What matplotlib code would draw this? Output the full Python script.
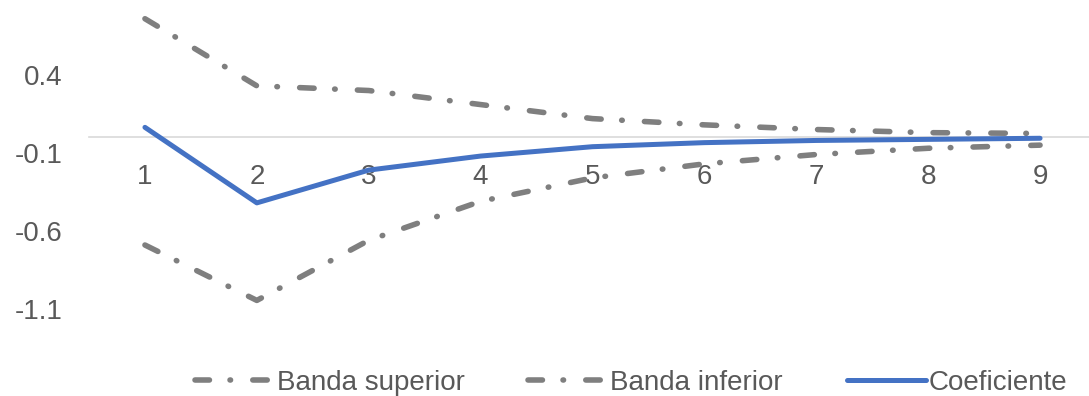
import matplotlib
matplotlib.use("Agg")
import matplotlib.pyplot as plt

plt.rcParams['font.family'] = ['Liberation Sans', 'DejaVu Sans']

periodos = [1, 2, 3, 4, 5, 6, 7, 8, 9]
banda_superior = [0.76, 0.33, 0.30, 0.21, 0.12, 0.08, 0.05, 0.03, 0.025]
banda_inferior = [-0.69, -1.045, -0.66, -0.41, -0.26, -0.17, -0.11, -0.07, -0.05]
coeficiente = [0.064, -0.42, -0.21, -0.12, -0.06, -0.034, -0.02, -0.013, -0.006]
yticks = [0.4, -0.1, -0.6, -1.1]

GRIS = '#7f7f7f'
AZUL = '#4472c4'
TXT = '#595959'
dash_dot = (0, (2.6, 3.7, 0.1, 4.0))

fig = plt.figure(figsize=(10.89, 3.96), dpi=100)
ax = fig.add_axes([89/1089, 1 - 309/396, 1007/1089, 309/396])

ax.plot(periodos, banda_superior, color=GRIS, lw=4.0, linestyle=dash_dot,
        dash_capstyle='round', label='Banda superior')
ax.plot(periodos, banda_inferior, color=GRIS, lw=4.0, linestyle=dash_dot,
        dash_capstyle='round', label='Banda inferior')
ax.plot(periodos, coeficiente, color=AZUL, lw=3.6, solid_capstyle='round',
        label='Coeficiente')

ax.set_xlim(0.5, 9.5)
ax.set_ylim(-1.1, 0.88)
ax.set_xticks(periodos)
ax.set_xticklabels([str(p) for p in periodos])
ax.set_yticks(yticks)
ax.set_yticklabels([f'{v:.1f}' for v in yticks])

for s in ['top', 'right', 'left']:
    ax.spines[s].set_visible(False)
ax.spines['bottom'].set_position(('data', 0))
ax.spines['bottom'].set_color('#d9d9d9')
ax.spines['bottom'].set_linewidth(1.2)
ax.spines['bottom'].set_zorder(0)

ax.tick_params(axis='x', length=0, pad=19, labelsize=20, labelcolor=TXT)
ax.tick_params(axis='y', length=0, pad=19, labelsize=20, labelcolor=TXT)
ax.patch.set_alpha(0)

fig.legend(loc='center', bbox_to_anchor=(631/1089, 1 - 383/396), ncol=3,
           frameon=False, fontsize=20, handlelength=2.85, handletextpad=0.1,
           columnspacing=2.3, labelcolor=TXT, borderpad=0, borderaxespad=0)

fig.savefig('out.png', dpi=100)
